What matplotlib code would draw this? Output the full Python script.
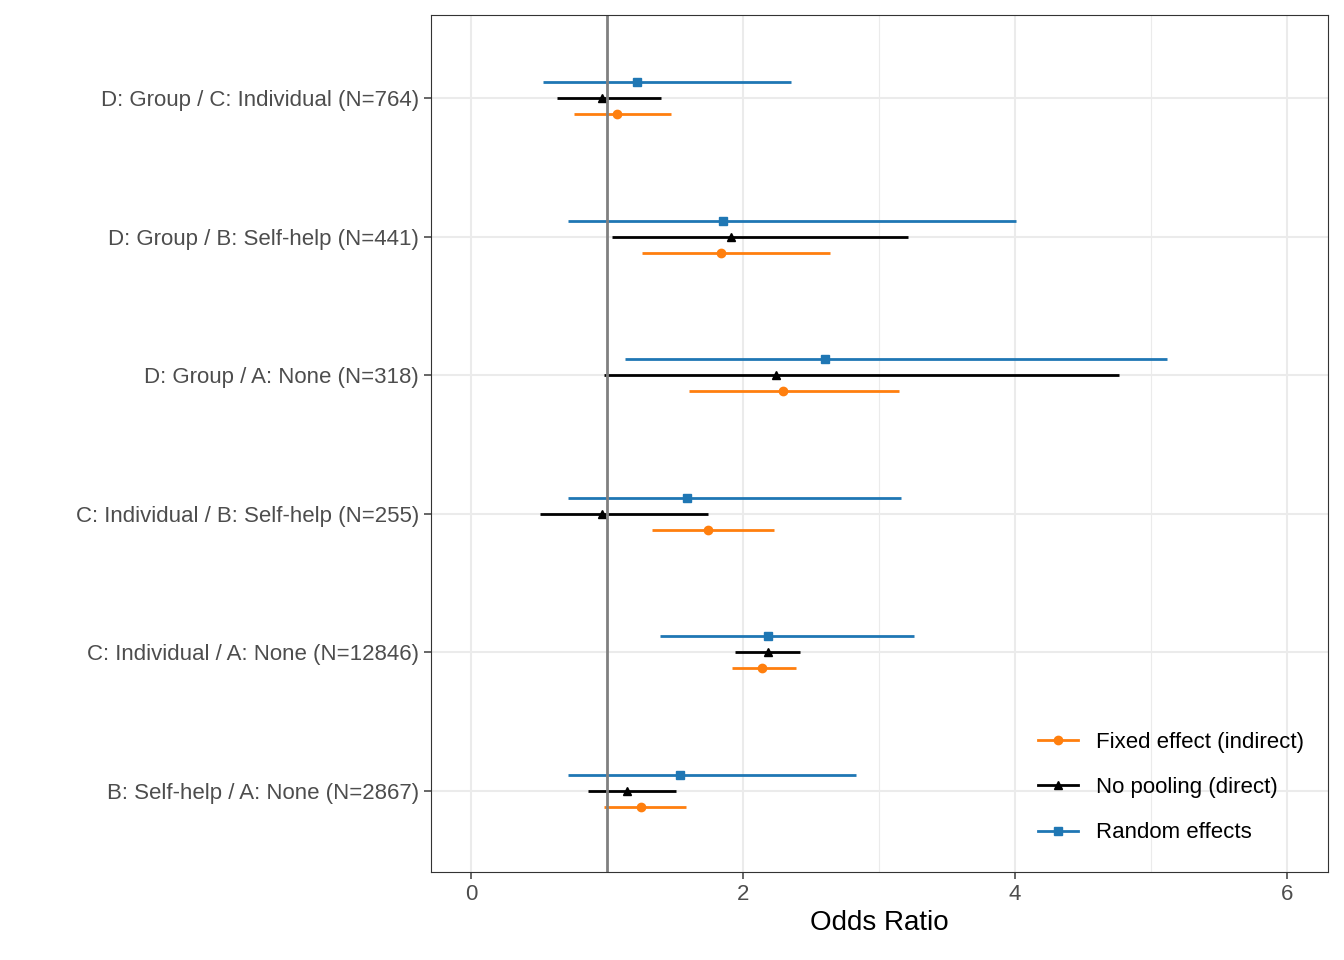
import matplotlib.pyplot as plt
import numpy as np

plt.rcParams['font.family'] = ['Liberation Sans', 'DejaVu Sans']

comparisons = ["D: Group / C: Individual (N=764)", "D: Group / B: Self-help (N=441)",
               "D: Group / A: None (N=318)", "C: Individual / B: Self-help (N=255)",
               "C: Individual / A: None (N=12846)", "B: Self-help / A: None (N=2867)"]

# odds ratio, lower, upper per comparison
fe_or = [1.07, 1.84, 2.29, 1.74, 2.14, 1.25]
fe_lo = [0.76, 1.26, 1.60, 1.33, 1.92, 0.98]
fe_hi = [1.47, 2.64, 3.15, 2.23, 2.39, 1.58]

np_or = [0.96, 1.91, 2.24, 0.96, 2.18, 1.15]
np_lo = [0.63, 1.04, 0.98, 0.51, 1.94, 0.86]
np_hi = [1.40, 3.21, 4.76, 1.74, 2.42, 1.51]

re_or = [1.22, 1.85, 2.60, 1.59, 2.18, 1.54]
re_lo = [0.53, 0.71, 1.13, 0.71, 1.39, 0.71]
re_hi = [2.35, 4.01, 5.12, 3.16, 3.26, 2.83]

fig = plt.figure(figsize=(13.44, 9.6), dpi=100)
ax = fig.add_axes([431/1344, 1-872/960, (1328-431)/1344, (872-15)/960])

ypos = np.arange(len(comparisons), 0, -1)
off = 0.115
series = [
    ("Fixed effect (indirect)", fe_or, fe_lo, fe_hi, -off, "#ff7f0e", "o"),
    ("No pooling (direct)", np_or, np_lo, np_hi, 0, "black", "^"),
    ("Random effects", re_or, re_lo, re_hi, off, "#1f77b4", "s"),
]
for label, est, lo, hi, o, col, mk in series:
    y = ypos + o
    ax.hlines(y, lo, hi, color=col, lw=2)
    ax.plot(est, y, mk, color=col, ms=6, ls="none")

ax.axvline(1, color="#808080", lw=2)

ax.set_xlim(-0.294, 6.30)
ax.set_ylim(0.415, 6.6)
ax.set_xticks([0, 2, 4, 6])
ax.set_xticks([1, 3, 5], minor=True)
ax.set_yticks(ypos)
ax.set_yticklabels(comparisons)
ax.grid(True, which="major", color="#ebebeb", lw=1.5)
ax.grid(True, which="minor", axis="x", color="#ebebeb", lw=0.8)
ax.set_axisbelow(True)
ax.tick_params(axis="both", labelsize=16, colors="#4d4d4d", length=5, width=1.2)
ax.tick_params(axis="x", which="minor", length=0)
for s in ax.spines.values():
    s.set_color("#333333")
ax.set_xlabel("Odds Ratio", fontsize=20)

handles = [plt.Line2D([], [], color=c, marker=m, ms=6, lw=2) for _, _, _, _, _, c, m in series]
ax.legend(handles, [s[0] for s in series], loc="lower right", frameon=False, fontsize=16,
          handlelength=1.8, labelspacing=1.1, bbox_to_anchor=(0.995, 0.01))

fig.savefig("out.png")
